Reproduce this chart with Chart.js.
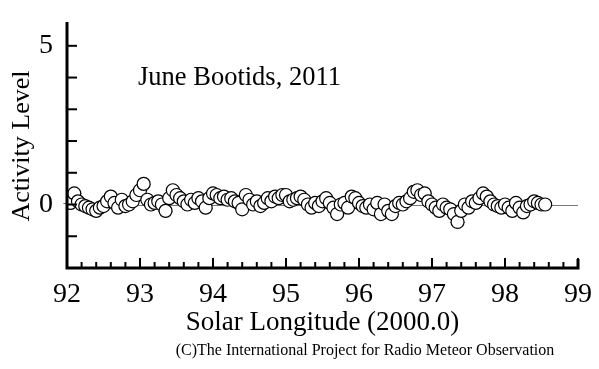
<!DOCTYPE html>
<html><head><meta charset="utf-8">
<script src="https://cdn.jsdelivr.net/npm/chart.js@4/dist/chart.umd.min.js"></script>
<style>html,body{margin:0;padding:0;background:#fff}#wrap{width:599px;height:369px}</style>
</head><body><div id="wrap"><canvas id="c" width="599" height="369"></canvas></div>
<script>
const solarLongitude = [
92.05,92.10,92.15,92.20,92.25,92.30,92.35,92.40,92.45,92.50,92.55,92.60,92.65,92.70,92.75,92.80,92.85,92.90,92.95,93.00,
93.05,93.10,93.15,93.20,93.25,93.30,93.35,93.40,93.45,93.50,93.55,93.60,93.65,93.70,93.75,93.80,93.85,93.90,93.95,94.00,
94.05,94.10,94.15,94.20,94.25,94.30,94.35,94.40,94.45,94.50,94.55,94.60,94.65,94.70,94.75,94.80,94.85,94.90,94.95,95.00,
95.05,95.10,95.15,95.20,95.25,95.30,95.35,95.40,95.45,95.50,95.55,95.60,95.65,95.70,95.75,95.80,95.85,95.90,95.95,96.00,
96.05,96.10,96.15,96.20,96.25,96.30,96.35,96.40,96.45,96.50,96.55,96.60,96.65,96.70,96.75,96.80,96.85,96.90,96.95,97.00,
97.05,97.10,97.15,97.20,97.25,97.30,97.35,97.40,97.45,97.50,97.55,97.60,97.65,97.70,97.75,97.80,97.85,97.90,97.95,98.00,
98.05,98.10,98.15,98.20,98.25,98.30,98.35,98.40,98.45,98.50,98.55];
const activityLevel = [
0.05,0.35,0.10,0.00,-0.05,-0.10,-0.15,-0.20,-0.10,-0.05,0.10,0.25,0.05,-0.10,0.15,-0.05,0.00,0.10,0.30,0.45,
0.65,0.15,0.00,0.05,0.10,0.00,-0.20,0.20,0.45,0.30,0.20,0.10,0.00,0.15,0.05,0.20,0.10,-0.10,0.20,0.35,
0.30,0.20,0.25,0.15,0.20,0.10,0.05,-0.15,0.30,0.15,0.00,0.10,-0.05,0.05,0.20,0.10,0.25,0.20,0.30,0.30,
0.10,0.15,0.20,0.25,0.15,0.00,-0.10,0.05,-0.05,0.10,0.20,0.05,-0.10,-0.30,0.00,0.05,-0.10,0.25,0.20,0.05,
-0.05,-0.10,0.00,-0.15,0.05,-0.30,0.00,-0.20,-0.30,-0.05,0.05,0.00,0.10,0.20,0.40,0.45,0.30,0.35,0.10,0.00,
-0.10,-0.20,0.00,-0.10,-0.15,-0.30,-0.55,-0.20,0.00,-0.10,0.10,0.05,0.20,0.35,0.25,0.10,0.00,-0.05,-0.10,0.00,
-0.10,-0.20,0.05,-0.10,-0.25,-0.05,0.00,0.10,0.05,0.00,0.00];
const xTickLabels = ['92','93','94','95','96','97','98','99'];
const yTickLabels = {0:'0', 5:'5'};
const ERR_X = 0.1;
const ERR_Y = 0.12;
const chartTitle = 'June Bootids, 2011';
const xTitle = 'Solar Longitude (2000.0)';
const yTitle = 'Activity Level';
const credit = '(C)The International Project for Radio Meteor Observation';

const points = solarLongitude.map((x,i)=>({x:x,y:activityLevel[i]}));
const SERIF = '"Liberation Serif","DejaVu Serif",serif';

const decor = {
  id:'decor',
  beforeDatasetsDraw(chart){
    const {ctx, chartArea:a, scales:{x,y}} = chart;
    ctx.save();
    ctx.strokeStyle='#777'; ctx.lineWidth=1;
    const y0=Math.round(y.getPixelForValue(0))+0.5;
    ctx.beginPath(); ctx.moveTo(a.left,y0); ctx.lineTo(a.right,y0); ctx.stroke();
    points.forEach(p=>{
      const px=x.getPixelForValue(p.x), py=y.getPixelForValue(p.y);
      const xl=x.getPixelForValue(p.x-ERR_X), xr=x.getPixelForValue(p.x+ERR_X);
      const yt=y.getPixelForValue(p.y+ERR_Y), yb=y.getPixelForValue(p.y-ERR_Y);
      ctx.strokeStyle='rgba(70,70,70,0.75)'; ctx.lineWidth=1;
      ctx.beginPath(); ctx.moveTo(xl,Math.round(py)+0.5); ctx.lineTo(xr,Math.round(py)+0.5); ctx.stroke();
      ctx.beginPath(); ctx.moveTo(Math.round(px)+0.5,yt); ctx.lineTo(Math.round(px)+0.5,yb); ctx.stroke();
    });
    ctx.restore();
  },
  afterDraw(chart){
    const {ctx, chartArea:a, scales:{x,y}} = chart;
    ctx.save();
    ctx.strokeStyle='#000'; ctx.lineWidth=3;
    ctx.beginPath(); ctx.moveTo(a.left,a.top); ctx.lineTo(a.left,a.bottom); ctx.lineTo(a.right,a.bottom); ctx.lineTo(a.right,a.bottom-9); ctx.stroke();
    ctx.lineWidth=2;
    for(let i=0;i<=35;i++){
      const v=92+i*0.2;
      const px=x.getPixelForValue(v);
      const major=i%5===0;
      ctx.beginPath(); ctx.moveTo(px,a.bottom); ctx.lineTo(px,a.bottom-(major?10:6)); ctx.stroke();
    }
    for(let v=-1; v<=5; v++){
      const py=y.getPixelForValue(v);
      ctx.beginPath(); ctx.moveTo(a.left,py); ctx.lineTo(a.left+10,py); ctx.stroke();
    }
    ctx.fillStyle='#000';
    ctx.font='26.5px '+SERIF; ctx.textAlign='left'; ctx.textBaseline='middle';
    ctx.fillText(chartTitle,138,78);
    ctx.textAlign='center';
    ctx.font='27px '+SERIF;
    ctx.fillText(xTitle,(a.left+a.right)/2,323);
    ctx.font='16px '+SERIF;
    ctx.fillText(credit,365,351);
    ctx.save(); ctx.translate(22,146); ctx.rotate(-Math.PI/2);
    ctx.font='26px '+SERIF; ctx.fillText(yTitle,0,0); ctx.restore();
    ctx.restore();
  }
};

new Chart(document.getElementById('c'),{
  type:'scatter',
  data:{datasets:[{data:points,pointRadius:6.5,pointHoverRadius:6.5,backgroundColor:'#fff',borderColor:'#000',borderWidth:1.2}]},
  options:{
    responsive:false,animation:false,
    layout:{padding:{left:0,right:21,top:22,bottom:0}},
    plugins:{legend:{display:false},tooltip:{enabled:false}},
    scales:{
      x:{type:'linear',min:92,max:99,
        afterFit(s){s.height=101;s.paddingLeft=0;s.paddingRight=0;},
        grid:{display:false,drawTicks:false},border:{display:false},
        ticks:{stepSize:1,padding:10,color:'#000',font:{family:SERIF,size:28},maxRotation:0,autoSkip:false,
          callback:(v)=>xTickLabels[Math.round(v)-92]||''}},
      y:{type:'linear',min:-2,max:5.75,
        afterFit(s){s.width=67;s.paddingTop=0;s.paddingBottom=0;},
        grid:{display:false,drawTicks:false},border:{display:false},
        ticks:{stepSize:1,padding:14,color:'#000',font:{family:SERIF,size:28},autoSkip:false,includeBounds:false,
          callback:(v)=>yTickLabels[v]!==undefined?yTickLabels[v]:''}}
    }
  },
  plugins:[decor]
});
</script></body></html>
